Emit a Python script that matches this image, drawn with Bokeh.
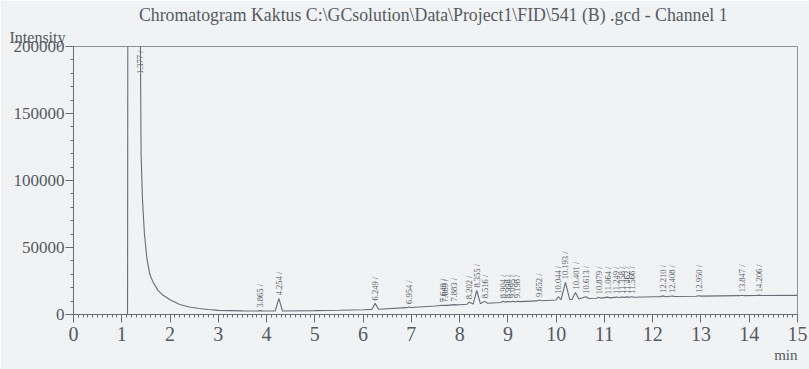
from bokeh.plotting import figure
from bokeh.models import Range1d, SingleIntervalTicker, NumeralTickFormatter, ColumnDataSource, Title
from bokeh.core.properties import value
from bokeh.embed import file_html
from bokeh.resources import INLINE

# ---- data ----
trace_time = [1.12, 1.13, 1.37, 1.385, 1.40, 1.43, 1.47, 1.52, 1.58, 1.65, 1.75, 1.85, 2.00, 2.20,
              2.40, 2.60, 2.80, 3.00, 3.50, 3.80, 3.865, 3.93, 4.18, 4.254, 4.33, 5.00, 5.50,
              6.00, 6.18, 6.249, 6.32, 6.90, 6.954, 7.00, 7.50, 7.649, 7.67, 7.689, 7.75,
              7.883, 7.95, 8.00, 8.15, 8.202, 8.28, 8.355, 8.43, 8.516, 8.58, 8.85, 8.904,
              8.95, 8.998, 9.05, 9.095, 9.15, 9.198, 9.25, 9.60, 9.652, 9.70, 10.00, 10.044,
              10.10, 10.193, 10.28, 10.33, 10.401, 10.47, 10.613, 10.68, 10.83, 10.879, 10.93,
              11.064, 11.12, 11.249, 11.30, 11.358, 11.41, 11.462, 11.51, 11.566, 11.62,
              12.00, 12.15, 12.210, 12.27, 12.408, 12.46, 12.90, 12.950, 13.00, 13.80,
              13.847, 13.90, 14.15, 14.206, 14.26, 15.00]
trace_intensity = [0, 400000, 400000, 210000, 120000, 85000, 60000, 42000, 30000, 24000, 18000,
                   14500, 11000, 7500, 5600, 4500, 3700, 3100, 2700, 2600, 2900, 2600, 2600,
                   12100, 2600, 2900, 3200, 3600, 3800, 8300, 3900, 5100, 5600, 5200, 6300,
                   6900, 6650, 6950, 6800, 7400, 7200, 7300, 7600, 9200, 7800, 17900, 8100,
                   9800, 8400, 9000, 9900, 9100, 9800, 9300, 9900, 9400, 9900, 9600, 10150,
                   10800, 10300, 10800, 13300, 11000, 24000, 11200, 11300, 16400, 11550, 13300,
                   11900, 12100, 12800, 12200, 12950, 12400, 13000, 12650, 13100, 12750, 13150,
                   12850, 13250, 12900, 13200, 13250, 13900, 13300, 13850, 13450, 13650, 13950,
                   13700, 14050, 14350, 14050, 14150, 14450, 14200, 14300]

peak_time = [3.865, 4.254, 6.249, 6.954, 7.649, 7.689, 7.883, 8.202, 8.355, 8.516, 8.904, 8.998,
             9.095, 9.198, 9.652, 10.044, 10.193, 10.401, 10.613, 10.879, 11.064, 11.249,
             11.358, 11.462, 11.566, 12.210, 12.408, 12.950, 13.847, 14.206]
peak_apex = [2900, 12100, 8300, 5600, 6900, 6950, 7400, 9200, 17900, 9800, 9900, 9800, 9900,
             9900, 10800, 13300, 24000, 16400, 13300, 12800, 12950, 13000, 13100, 13150, 13250,
             13900, 13850, 13950, 14350, 14450]
main_peak_time = [1.377]

x_ticks_step = 1
y_ticks_step = 50000

TXT = "#555a61"
LINE = "#686d75"
BG = "#f0f2f4"
FONT = "Liberation Serif"

p = figure(width=809, height=369, output_backend="svg", toolbar_location=None, title=None,
           x_range=Range1d(0, 15), y_range=Range1d(0, 200000),
           min_border_left=73, min_border_right=12, min_border_top=46, min_border_bottom=55)

p.background_fill_color = BG
p.border_fill_color = BG
p.outline_line_color = "#8a9098"
p.outline_line_width = 1
p.xgrid.visible = False
p.ygrid.visible = False

p.xaxis.ticker = SingleIntervalTicker(interval=x_ticks_step, num_minor_ticks=10)
p.yaxis.ticker = SingleIntervalTicker(interval=y_ticks_step, num_minor_ticks=5)
p.yaxis.formatter = NumeralTickFormatter(format="0")
for ax in (p.xaxis[0], p.yaxis[0]):
    ax.axis_line_color = LINE
    ax.major_tick_line_color = LINE
    ax.minor_tick_line_color = LINE
    ax.major_tick_in = 0
    ax.minor_tick_in = 0
    ax.major_tick_out = 8
    ax.minor_tick_out = 3
    ax.major_label_text_font = FONT
    ax.major_label_text_color = TXT
p.xaxis.major_label_text_font_size = "20px"
p.xaxis.major_label_standoff = 4
p.yaxis.major_label_text_font_size = "17px"
p.yaxis.major_label_standoff = 1

# titles / axis names (closest to the frame first)
p.add_layout(Title(text="Intensity", align="left", offset=-64, standoff=1, text_font=FONT,
                   text_font_size="16px", text_font_style="normal", text_color=TXT), "above")
p.add_layout(Title(text="Chromatogram Kaktus C:\\GCsolution\\Data\\Project1\\FID\\541  (B) .gcd - Channel 1",
                   align="center", standoff=3, text_font=FONT, text_font_size="17.8px",
                   text_font_style="normal", text_color=TXT), "above")
p.add_layout(Title(text="min", align="right", standoff=3, text_font=FONT, text_font_size="15px",
                   text_font_style="normal", text_color=TXT), "below")

# chromatogram trace
p.line(trace_time, trace_intensity, line_color=LINE, line_width=1.1)

# peak labels
src = ColumnDataSource(dict(x=peak_time, y=peak_apex, t=[f"{t:.3f} /" for t in peak_time]))
p.text(x="x", y="y", text="t", source=src, angle=1.5708, text_align="left",
       text_baseline="middle", y_offset=-3, text_font=value(FONT), text_font_size="8.5px",
       text_color=TXT)
src2 = ColumnDataSource(dict(x=main_peak_time, y=[200000], t=[f"{t:.3f} /" for t in main_peak_time]))
p.text(x="x", y="y", text="t", source=src2, angle=1.5708, text_align="right",
       text_baseline="middle", y_offset=4, text_font=value(FONT), text_font_size="8.5px",
       text_color=TXT)

html = file_html(p, INLINE)
html = html.replace("<body>", f'<body style="background:{BG}">', 1)
open("out.html", "w").write(html)
